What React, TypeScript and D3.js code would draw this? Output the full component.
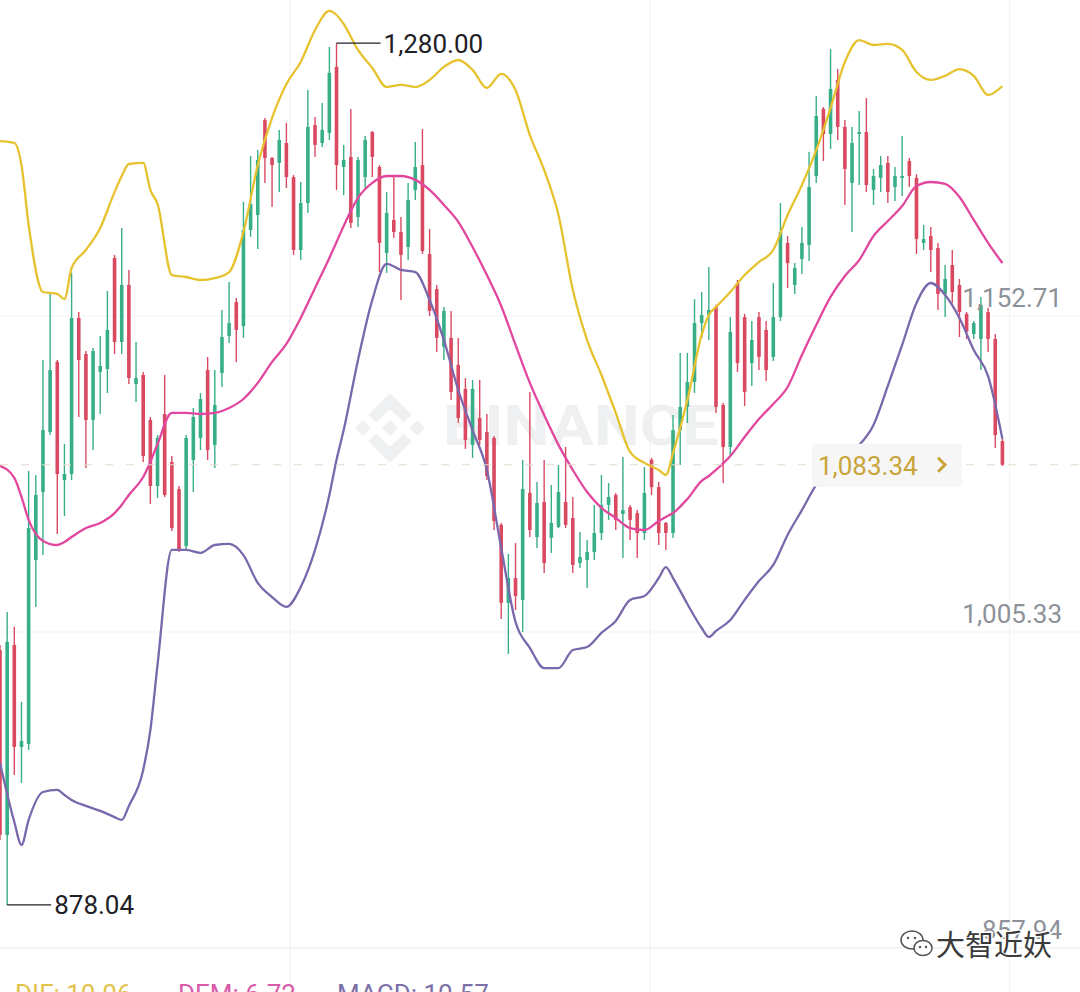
import React, { useEffect, useRef } from 'react';
import * as d3 from 'd3';

// candle OHLC, one entry per candle
const openPrices = [
    996.9, 910.7, 999.3, 951.7, 953.1, 1038.9, 1070.6, 1098.6, 1131.3, 1076.2,
    1079.0, 1151.8, 1135.0, 1104.2, 1126.6, 1128.0, 1179.8, 1140.6, 1167.2, 1121.0,
    1125.2, 1104.2, 1073.4, 1107.0, 1084.6, 1072.0, 1045.4, 1085.6, 1095.8, 1127.5,
    1092.6, 1126.1, 1143.4, 1159.2, 1148.0, 1192.8, 1199.8, 1244.1, 1226.4, 1224.1,
    1233.4, 1217.5, 1183.5, 1205.4, 1241.8, 1233.4, 1238.1, 1268.9, 1222.2, 1226.9,
    1198.9, 1217.5, 1238.5, 1222.2, 1182.1, 1197.5, 1191.9, 1184.9, 1211.5, 1223.1,
    1181.6, 1165.3, 1138.3, 1142.5, 1129.9, 1118.7, 1092.6, 1105.1, 1098.6, 1095.8,
    1055.3, 1018.9, 1030.5, 1020.3, 1070.2, 1049.6, 1066.0, 1049.2, 1054.3, 1066.0,
    1058.5, 1037.5, 1038.9, 1042.6, 1051.5, 1064.6, 1069.2, 1060.4, 1063.6, 1060.8,
    1051.5, 1085.6, 1072.9, 1056.2, 1051.5, 1099.5, 1110.3, 1121.9, 1149.4, 1153.2,
    1156.9, 1111.2, 1091.6, 1168.1, 1152.2, 1130.8, 1152.2, 1146.2, 1133.6, 1152.2,
    1186.8, 1167.2, 1179.3, 1185.8, 1218.0, 1249.3, 1237.6, 1262.8, 1240.9, 1214.8,
    1237.6, 1238.5, 1211.5, 1217.1, 1224.1, 1212.9, 1217.1, 1225.0, 1217.1, 1186.8,
    1190.0, 1184.4, 1163.0, 1176.5, 1167.2, 1153.7, 1144.3, 1142.0, 1154.6, 1142.0,
    1094.4
];
const highPrices = [
    999.3, 1014.7, 1007.7, 972.7, 1080.4, 1078.6, 1132.2, 1163.4, 1132.2, 1093.0,
    1172.8, 1154.6, 1136.4, 1137.8, 1143.4, 1164.4, 1181.2, 1193.8, 1174.2, 1140.6,
    1126.6, 1105.6, 1097.2, 1125.2, 1087.4, 1073.4, 1097.2, 1109.8, 1116.8, 1133.6,
    1127.5, 1155.5, 1168.6, 1161.1, 1205.9, 1227.3, 1230.1, 1245.1, 1226.9, 1239.5,
    1242.7, 1218.5, 1215.2, 1258.1, 1245.5, 1252.1, 1278.2, 1280.0, 1232.5, 1249.3,
    1226.9, 1236.7, 1239.0, 1223.1, 1210.5, 1217.5, 1198.9, 1214.8, 1233.9, 1239.9,
    1193.3, 1167.2, 1156.9, 1155.1, 1142.5, 1123.8, 1122.9, 1122.9, 1107.0, 1096.7,
    1056.2, 1041.7, 1046.8, 1085.6, 1117.3, 1075.3, 1085.6, 1073.9, 1083.2, 1091.6,
    1068.3, 1052.0, 1048.2, 1064.6, 1078.6, 1074.8, 1070.2, 1087.0, 1064.6, 1062.2,
    1082.3, 1086.5, 1075.3, 1056.6, 1106.5, 1135.5, 1135.5, 1160.6, 1163.9, 1175.6,
    1157.9, 1112.1, 1152.2, 1169.5, 1153.7, 1150.4, 1154.6, 1150.4, 1168.1, 1205.4,
    1190.0, 1177.4, 1194.2, 1229.2, 1255.3, 1250.2, 1277.2, 1267.9, 1244.1, 1240.9,
    1248.3, 1254.4, 1221.3, 1227.3, 1227.3, 1222.2, 1236.7, 1226.4, 1218.9, 1195.2,
    1194.2, 1186.8, 1176.5, 1183.5, 1170.0, 1154.6, 1150.4, 1161.6, 1156.5, 1144.3,
    1095.4
];
const lowPrices = [
    908.3, 878.04, 938.6, 934.9, 950.3, 1017.0, 1041.2, 1097.2, 1051.0, 1059.4,
    1076.2, 1105.6, 1081.8, 1090.2, 1107.0, 1116.8, 1135.0, 1135.0, 1121.0, 1112.6,
    1084.6, 1065.0, 1067.8, 1068.3, 1052.4, 1042.6, 1044.0, 1070.6, 1090.2, 1085.6,
    1081.8, 1119.6, 1140.1, 1131.3, 1142.5, 1189.6, 1184.0, 1214.8, 1203.6, 1210.5,
    1212.4, 1181.2, 1178.8, 1200.8, 1226.9, 1231.5, 1234.8, 1211.5, 1209.1, 1193.8,
    1194.2, 1211.5, 1217.5, 1173.2, 1172.8, 1189.1, 1160.2, 1178.8, 1206.8, 1181.6,
    1152.7, 1135.9, 1132.2, 1113.5, 1102.8, 1090.7, 1086.5, 1092.6, 1076.2, 1052.9,
    1011.4, 995.1, 1015.6, 1005.3, 1049.6, 1044.5, 1032.8, 1042.2, 1053.8, 1053.8,
    1032.8, 1035.2, 1025.8, 1038.9, 1048.2, 1057.6, 1052.9, 1039.8, 1048.2, 1039.8,
    1048.2, 1069.2, 1045.9, 1043.6, 1049.2, 1083.2, 1102.8, 1116.8, 1142.5, 1141.5,
    1107.5, 1074.8, 1087.9, 1126.6, 1110.7, 1120.1, 1127.5, 1122.4, 1131.7, 1150.4,
    1165.8, 1163.0, 1172.3, 1178.4, 1214.8, 1225.0, 1230.6, 1234.8, 1204.5, 1191.9,
    1213.8, 1210.5, 1204.5, 1210.5, 1205.4, 1206.4, 1208.7, 1212.9, 1181.6, 1183.5,
    1173.2, 1155.5, 1152.2, 1158.8, 1142.9, 1142.0, 1142.0, 1127.5, 1135.9, 1091.2,
    1082.8
];
const closePrices = [
    910.7, 1000.7, 951.7, 954.5, 1053.8, 1069.2, 1099.5, 1127.5, 1079.0, 1079.0,
    1151.8, 1132.2, 1104.2, 1136.4, 1129.4, 1146.2, 1140.6, 1167.2, 1123.8, 1123.8,
    1087.4, 1073.4, 1095.8, 1069.2, 1053.8, 1044.0, 1095.8, 1105.6, 1114.0, 1090.2,
    1111.2, 1142.9, 1149.4, 1146.2, 1192.8, 1205.0, 1225.5, 1226.4, 1223.1, 1234.8,
    1217.5, 1183.5, 1205.4, 1240.9, 1232.5, 1239.5, 1266.1, 1223.1, 1225.5, 1196.1,
    1225.5, 1234.8, 1226.9, 1186.8, 1200.8, 1191.9, 1181.2, 1206.8, 1222.2, 1183.0,
    1155.1, 1142.5, 1155.1, 1117.3, 1105.1, 1094.9, 1118.7, 1094.9, 1078.1, 1057.1,
    1018.9, 1030.5, 1022.1, 1072.0, 1052.9, 1065.5, 1037.5, 1056.2, 1070.6, 1055.3,
    1036.6, 1040.3, 1042.6, 1051.5, 1064.6, 1068.3, 1057.6, 1062.2, 1057.6, 1051.5,
    1070.2, 1072.9, 1051.5, 1051.5, 1099.5, 1110.3, 1121.9, 1149.4, 1153.2, 1155.5,
    1110.3, 1091.6, 1145.3, 1130.8, 1117.3, 1141.5, 1133.6, 1127.5, 1152.2, 1191.9,
    1177.4, 1175.1, 1186.8, 1212.9, 1246.0, 1237.6, 1258.6, 1240.9, 1221.3, 1233.4,
    1238.5, 1213.8, 1218.0, 1223.1, 1210.5, 1218.0, 1218.0, 1218.0, 1188.6, 1188.6,
    1183.5, 1163.0, 1170.0, 1163.9, 1154.6, 1145.3, 1149.4, 1157.9, 1142.0, 1097.2,
    1083.34
];

// Bollinger band readings at these candle indexes
const bandIndex = [
    0, 2, 3, 4, 6, 8, 9, 10, 12, 14, 16, 17, 18, 20, 21, 22, 24, 26, 28, 30,
    32, 34, 36, 38, 40, 42, 44, 46, 47, 48, 50, 52, 54, 56, 58, 60, 62, 64, 66, 68,
    70, 72, 74, 76, 78, 80, 82, 84, 86, 88, 90, 92, 93, 94, 96, 98, 99, 100, 102, 104,
    106, 108, 110, 112, 114, 116, 118, 120, 122, 124, 126, 128, 130, 132, 134, 136, 138, 140
];
const upperBand = [
    1234.3, 1233.4, 1223.1, 1195.2, 1163.9, 1163.0, 1160.6, 1175.1, 1183.5, 1193.8,
    1210.5, 1218.0, 1223.6, 1224.1, 1211.5, 1205.0, 1171.8, 1170.9, 1169.5, 1170.4,
    1173.2, 1191.9, 1223.1, 1245.1, 1260.9, 1271.2, 1286.1, 1295.0, 1293.1, 1288.9,
    1276.8, 1268.4, 1259.5, 1260.5, 1259.5, 1262.8, 1268.9, 1272.1, 1267.5, 1259.1,
    1265.6, 1258.1, 1237.1, 1220.8, 1199.8, 1164.9, 1141.5, 1125.2, 1107.5, 1089.3,
    1084.2, 1080.9, 1078.6, 1088.8, 1113.5, 1143.9, 1153.2, 1156.9, 1163.9, 1171.8,
    1177.9, 1183.5, 1199.8, 1213.8, 1230.1, 1249.7, 1271.2, 1281.4, 1279.1, 1279.6,
    1276.8, 1266.5, 1262.8, 1264.7, 1267.9, 1264.7, 1255.8, 1260.0
];
const middleBand = [
    1082.8, 1077.2, 1068.3, 1057.6, 1047.8, 1045.9, 1047.3, 1049.6, 1053.8, 1056.2,
    1060.8, 1064.6, 1069.2, 1077.6, 1084.6, 1093.0, 1107.5, 1107.5, 1107.0, 1107.5,
    1109.8, 1114.0, 1121.5, 1131.3, 1139.7, 1151.8, 1165.8, 1179.8, 1187.2, 1194.7,
    1207.8, 1214.8, 1218.0, 1218.0, 1216.2, 1211.5, 1204.5, 1196.6, 1184.9, 1171.8,
    1157.4, 1139.2, 1121.5, 1106.5, 1092.6, 1080.9, 1070.6, 1063.2, 1058.5, 1053.8,
    1052.9, 1057.1, 1059.0, 1060.8, 1067.4, 1075.8, 1078.1, 1080.9, 1087.4, 1096.3,
    1104.7, 1111.7, 1119.6, 1134.5, 1148.5, 1161.6, 1171.4, 1178.8, 1190.0, 1197.0,
    1204.0, 1213.3, 1215.2, 1214.3, 1208.2, 1197.5, 1186.8, 1177.4
];
const lowerBand = [
    944.2, 916.7, 906.0, 917.7, 930.7, 931.7, 929.3, 927.0, 924.2, 921.9,
    919.0, 917.7, 924.2, 941.0, 959.6, 990.0, 1043.6, 1043.6, 1042.2, 1045.9,
    1046.4, 1041.2, 1028.2, 1021.6, 1017.0, 1026.3, 1043.6, 1069.2, 1085.6, 1099.5,
    1132.2, 1160.2, 1177.0, 1174.2, 1173.2, 1160.2, 1141.5, 1118.2, 1099.5, 1080.9,
    1044.5, 1010.0, 997.9, 988.5, 988.5, 996.9, 998.3, 1004.9, 1010.5, 1020.3,
    1022.1, 1030.5, 1035.6, 1030.5, 1018.4, 1007.2, 1003.0, 1005.8, 1010.9, 1020.3,
    1029.1, 1036.6, 1050.6, 1062.2, 1073.9, 1081.8, 1087.9, 1092.6, 1101.9, 1120.1,
    1139.2, 1158.8, 1168.1, 1162.5, 1151.8, 1136.9, 1124.7, 1095.4
];

const priceTicks = [1152.71, 1005.33, 857.94];
const timeGridIndex = [40.5, 90.8, 141];
const lastPrice = 1083.34;
const highMark = { idx: 47, price: 1280.0 };
const lowMark = { idx: 1, price: 878.04 };
const macdLabels = [
    { text: 'DIF: 10.06', color: '#E3C24A' },
    { text: 'DEM: 6.72', color: '#D85AA8' },
    { text: 'MACD: 10.57', color: '#7D70A8' },
];

const WIDTH = 1080;
const HEIGHT = 992;
const FONT = "Roboto, 'Noto Sans', sans-serif";
const UP = '#38AE88';
const DOWN = '#D94A62';

const fmt = d3.format(',.2f');

export default function App() {
    const svgRef = useRef<SVGSVGElement | null>(null);

    useEffect(() => {
        if (!svgRef.current) return;
        const svg = d3.select(svgRef.current);
        svg.selectAll('*').remove();

        const x = d3.scaleLinear().domain([0, 140]).range([0, 1002.4]);
        const y = d3.scaleLinear().domain([857.94, 1152.71]).range([948, 316]);

        svg.append('rect').attr('width', WIDTH).attr('height', HEIGHT).attr('fill', '#fff');

        // grid
        svg.selectAll('.hgrid')
            .data(priceTicks)
            .join('line')
            .attr('x1', 0).attr('x2', WIDTH)
            .attr('y1', d => y(d)).attr('y2', d => y(d))
            .attr('stroke', (d, i) => i === priceTicks.length - 1 ? '#E8EAED' : '#F2F3F5')
            .attr('stroke-width', 1.2);
        svg.selectAll('.vgrid')
            .data(timeGridIndex)
            .join('line')
            .attr('x1', d => x(d)).attr('x2', d => x(d))
            .attr('y1', 0).attr('y2', HEIGHT)
            .attr('stroke', '#F2F3F5')
            .attr('stroke-width', 1.2);

        // binance watermark
        const wm = svg.append('g').attr('fill', '#EFF0F1');
        const logo = wm.append('g').attr('transform', 'translate(355,393) scale(0.553)');
        [
            'M38.73,53.2L63.3,28.63L87.89,53.22L102.19,38.92L63.3,0L24.42,38.9Z',
            'M0,63.31L14.3,49L28.6,63.31L14.3,77.61Z',
            'M38.73,73.42L63.3,97.99L87.89,73.4L102.19,87.69L63.3,126.61L24.42,87.71Z',
            'M97.99,63.31L112.29,49L126.61,63.31L112.3,77.61Z',
            'M77.83,63.3L63.3,48.76L48.76,63.3L63.3,77.83Z',
        ].forEach(p => logo.append('path').attr('d', p));
        wm.append('text')
            .attr('x', 443).attr('y', 445)
            .attr('font-family', FONT).attr('font-weight', 700).attr('font-size', 56)
            .attr('textLength', 276).attr('lengthAdjust', 'spacingAndGlyphs')
            .text('BINANCE');

        // candles
        const idx = d3.range(openPrices.length);
        const candles = svg.append('g');
        candles.selectAll('line')
            .data(idx)
            .join('line')
            .attr('x1', i => x(i)).attr('x2', i => x(i))
            .attr('y1', i => y(highPrices[i])).attr('y2', i => y(lowPrices[i]))
            .attr('stroke', i => closePrices[i] >= openPrices[i] ? UP : DOWN)
            .attr('stroke-width', 1.4);
        candles.selectAll('rect')
            .data(idx)
            .join('rect')
            .attr('x', i => x(i) - 1.8)
            .attr('width', 3.6)
            .attr('y', i => y(Math.max(openPrices[i], closePrices[i])))
            .attr('height', i => Math.max(1.6, Math.abs(y(openPrices[i]) - y(closePrices[i]))))
            .attr('fill', i => closePrices[i] >= openPrices[i] ? UP : DOWN);

        // bollinger bands
        const bandLine = (vals: number[]) => d3.line<number>()
            .x((d, k) => x(bandIndex[k]))
            .y(d => y(d))
            .curve(d3.curveMonotoneX)(vals);
        [
            { vals: upperBand, color: '#E6C22F' },
            { vals: middleBand, color: '#E1479F' },
            { vals: lowerBand, color: '#7A68AC' },
        ].forEach(b => {
            svg.append('path')
                .attr('d', bandLine(b.vals) || '')
                .attr('fill', 'none')
                .attr('stroke', b.color)
                .attr('stroke-width', 2.3)
                .attr('stroke-linejoin', 'round');
        });

        // high / low marks
        [highMark, lowMark].forEach(m => {
            const mx = x(m.idx);
            const my = y(m.price);
            svg.append('line')
                .attr('x1', mx).attr('x2', mx + 44)
                .attr('y1', my).attr('y2', my)
                .attr('stroke', '#1E2026').attr('stroke-width', 1.3);
            svg.append('text')
                .attr('x', mx + 47).attr('y', my + 9.5)
                .attr('font-family', FONT).attr('font-size', 26)
                .attr('fill', '#1E2026')
                .text(fmt(m.price));
        });

        // last price line + tag
        const ly = y(lastPrice);
        svg.append('line')
            .attr('x1', 0).attr('x2', WIDTH)
            .attr('y1', ly).attr('y2', ly)
            .attr('stroke', '#E2DACB').attr('stroke-width', 1.2)
            .attr('stroke-dasharray', '8 13');
        svg.append('rect')
            .attr('x', 812).attr('y', ly - 21).attr('width', 150).attr('height', 43)
            .attr('rx', 4).attr('fill', '#F6F6F6');
        svg.append('text')
            .attr('x', 818).attr('y', ly + 10)
            .attr('font-family', FONT).attr('font-size', 26)
            .attr('fill', '#C9A43A')
            .text(fmt(lastPrice));
        svg.append('path')
            .attr('d', `M938,${ly - 7}L945,${ly}L938,${ly + 7}`)
            .attr('fill', 'none').attr('stroke', '#C9A43A').attr('stroke-width', 3);

        // price labels
        svg.selectAll('.plabel')
            .data(priceTicks)
            .join('text')
            .attr('x', 1062).attr('y', d => y(d) - 9)
            .attr('text-anchor', 'end')
            .attr('font-family', FONT).attr('font-size', 26)
            .attr('fill', '#8D9199')
            .text(d => fmt(d));

        // macd legend (cut off at the bottom)
        const legendX = [15, 178, 337];
        macdLabels.forEach((m, i) => {
            svg.append('text')
                .attr('x', legendX[i]).attr('y', 1003)
                .attr('font-family', FONT).attr('font-size', 26)
                .attr('fill', m.color)
                .text(m.text);
        });

        // wechat watermark
        const wc = svg.append('g');
        wc.append('ellipse').attr('cx', 912).attr('cy', 940).attr('rx', 11).attr('ry', 9)
            .attr('fill', '#fff').attr('stroke', '#555').attr('stroke-width', 1.5);
        wc.append('ellipse').attr('cx', 923).attr('cy', 948).attr('rx', 9).attr('ry', 7.5)
            .attr('fill', '#fff').attr('stroke', '#555').attr('stroke-width', 1.5);
        [[908, 938], [915, 938], [920, 947], [926, 947]].forEach(([cx, cy]) => {
            wc.append('circle').attr('cx', cx).attr('cy', cy).attr('r', 1.2).attr('fill', '#555');
        });
        wc.append('text')
            .attr('x', 936).attr('y', 956)
            .attr('font-family', "'Noto Sans CJK SC', sans-serif").attr('font-size', 29)
            .attr('fill', '#3A3A3A')
            .attr('stroke', '#fff').attr('stroke-width', 3).attr('paint-order', 'stroke')
            .text('大智近妖');
    }, []);

    return (
        <svg
            ref={svgRef}
            width={WIDTH}
            height={HEIGHT}
            style={{ position: 'absolute', left: 0, top: 0, display: 'block' }}
        />
    );
}
